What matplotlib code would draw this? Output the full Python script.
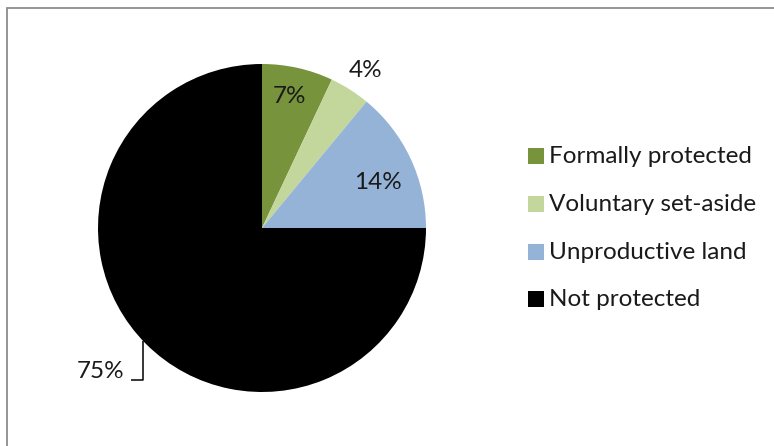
import numpy as np
import matplotlib
matplotlib.use("Agg")
import matplotlib.pyplot as plt
from matplotlib.patches import Rectangle

categories = ["Formally protected", "Voluntary set-aside", "Unproductive land", "Not protected"]
shares = [7, 4, 14, 75]
pct_labels = ["7%", "4%", "14%", "75%"]
colors = ["#77933C", "#C3D69B", "#95B3D7", "#000000"]

plt.rcParams["font.family"] = ["Lato", "DejaVu Sans"]

W, H = 774, 446
FS = 17.5
TXT = "#1a1a1a"
fig = plt.figure(figsize=(W / 100, H / 100), dpi=100)
ax = fig.add_axes([0, 0, 1, 1])

# chart frame (only top and left edges fall inside the canvas)
ax.add_patch(Rectangle((6.5, -10), W + 20, H - 7.5 + 10, fill=False,
                       edgecolor="#8c8c8c", linewidth=1.3))

cx, cy, R = 262, H - 228, 164
wedges, _ = ax.pie(shares, colors=colors, startangle=90, counterclock=False,
                   center=(cx, cy), radius=R, frame=True,
                   wedgeprops=dict(linewidth=0))
ax.set_xlim(0, W)
ax.set_ylim(0, H)
ax.set_aspect("equal")
ax.axis("off")

# percentage labels placed along each wedge's bisector
label_radius = [0.82, 1.15, 0.76, None]
label_shift = [1.0, -1.0, -3.6, 0]
for w, lab, rf, sh in zip(wedges, pct_labels, label_radius, label_shift):
    mid = np.deg2rad((w.theta1 + w.theta2) / 2 + sh)
    if rf is None:
        # leader line for the large wedge
        x_line = cx - 119
        y_edge = cy - np.sqrt(R**2 - (x_line - cx)**2)
        y_low = H - 380
        ax.plot([x_line, x_line, x_line - 12], [y_edge, y_low, y_low],
                color="black", linewidth=1.1, solid_capstyle="butt")
        ax.text(x_line - 19, y_low + 9, lab, ha="right", va="center",
                fontsize=FS, color=TXT)
    else:
        ax.text(cx + rf * R * np.cos(mid), cy + rf * R * np.sin(mid), lab,
                ha="center", va="center", fontsize=FS, color=TXT)

# legend: colour key squares with labels
key_x, key_top, key_size, row_step = 528, 148, 16, 47.8
for i, (name, col) in enumerate(zip(categories, colors)):
    top = key_top + i * row_step
    ax.add_patch(Rectangle((key_x, H - top - key_size), key_size, key_size,
                           facecolor=col, edgecolor="none"))
    ax.text(key_x + 21, H - top - key_size + 1, name, ha="left",
            va="baseline", fontsize=FS, color=TXT)

fig.savefig("out.png", dpi=100)
